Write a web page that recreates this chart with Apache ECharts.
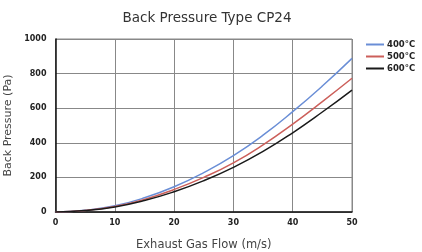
<!DOCTYPE html>
<html><head><meta charset="utf-8">
<script src="https://cdn.jsdelivr.net/npm/echarts@6/dist/echarts.min.js"></script>
<style>html,body{margin:0;padding:0;background:#fff}#c{width:422px;height:252px}</style>
</head><body><div id="c"></div>
<script>
const flow = [0, 5, 10, 15, 20, 25, 30, 35, 40, 45, 50];
const p400 = [0, 10, 36, 82, 146, 228, 326, 444, 580, 728, 888];
const p500 = [0, 9, 32, 73, 130, 200, 284, 388, 508, 638, 773];
const p600 = [0, 8, 29, 66, 117, 181, 258, 350, 458, 578, 705];
const seriesNames = ['400°C', '500°C', '600°C'];
const colors = ['#6a8ed6', '#cc5f5a', '#1a1a1a'];
const ff = 'DejaVu Sans';
const pair = a => flow.map((x, i) => [x, a[i]]);
const chart = echarts.init(document.getElementById('c'));
chart.setOption({
  animation: false,
  title: { text: 'Back Pressure Type CP24', left: 202, textAlign: 'center', top: 6,
    textStyle: { fontFamily: ff, fontSize: 13.5, fontWeight: 'normal', color: '#333' } },
  legend: { orient: 'vertical', left: 366, top: 40, padding: 0, itemWidth: 18, itemHeight: 2, itemGap: 3, icon: 'rect',
    textStyle: { fontFamily: ff, fontSize: 8.5, fontWeight: 'bold', color: '#222', padding: [0, 0, 0, -2] },
    data: seriesNames },
  grid: { left: 55.5, right: 70, top: 39, bottom: 40, containLabel: false, outerBoundsMode: 'none' },
  xAxis: { type: 'value', min: 0, max: 50, interval: 10,
    name: 'Exhaust Gas Flow (m/s)', nameLocation: 'middle', nameGap: 27,
    nameTextStyle: { fontFamily: ff, fontSize: 11.5, color: '#444' },
    axisLine: { lineStyle: { color: '#111', width: 1.5 } }, axisTick: { show: false },
    axisLabel: { fontFamily: ff, fontSize: 8, fontWeight: 'bold', color: '#222', margin: 7 },
    splitLine: { lineStyle: { color: '#888', width: 1 } } },
  yAxis: { type: 'value', min: 0, max: 1000, interval: 200,
    name: 'Back Pressure (Pa)', nameLocation: 'middle', nameGap: 31,
    nameTextStyle: { fontFamily: ff, fontSize: 11, color: '#444' },
    axisLine: { show: true, lineStyle: { color: '#111', width: 1.5 } }, axisTick: { show: false },
    axisLabel: { fontFamily: ff, fontSize: 8, fontWeight: 'bold', color: '#222', margin: 9, formatter: v => String(v) },
    splitLine: { lineStyle: { color: '#888', width: 1 } } },
  series: [
    { name: seriesNames[0], type: 'line', data: pair(p400), smooth: true, showSymbol: false, color: colors[0], lineStyle: { width: 1.5 } },
    { name: seriesNames[1], type: 'line', data: pair(p500), smooth: true, showSymbol: false, color: colors[1], lineStyle: { width: 1.5 } },
    { name: seriesNames[2], type: 'line', data: pair(p600), smooth: true, showSymbol: false, color: colors[2], lineStyle: { width: 1.5 } }
  ],
  graphic: [{ type: 'rect', shape: { x: 55.5, y: 39, width: 296.5, height: 173 }, style: { fill: 'none', stroke: '#888', lineWidth: 1 }, z: -1, silent: true }]
});
</script></body></html>
